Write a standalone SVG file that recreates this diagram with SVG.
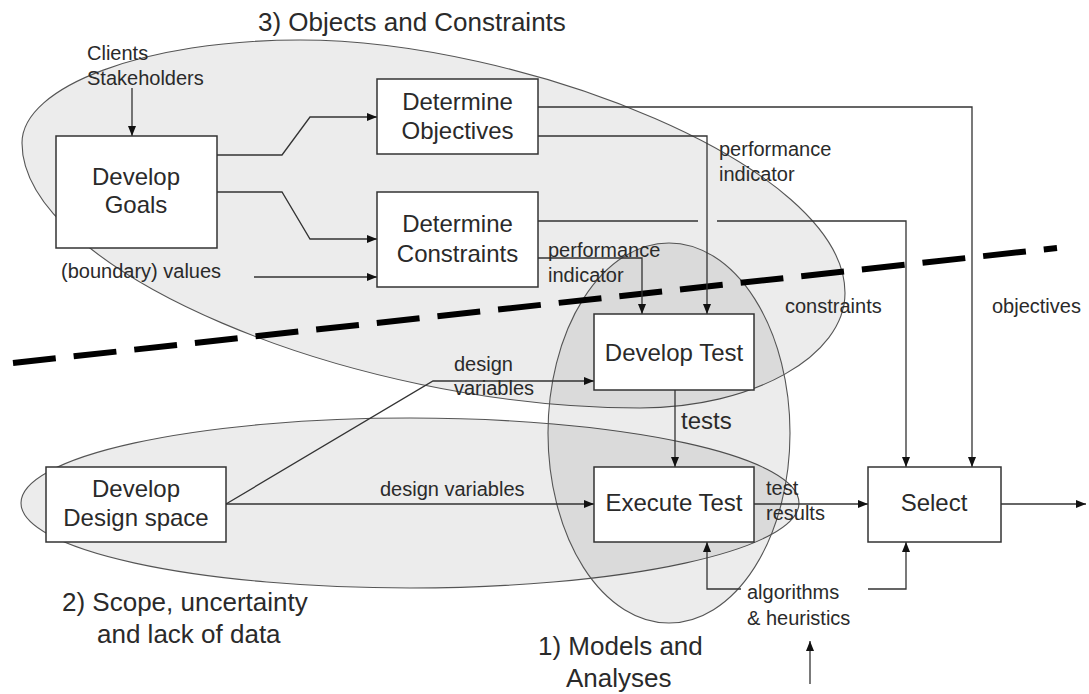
<svg xmlns="http://www.w3.org/2000/svg" width="1089" height="694" viewBox="0 0 1089 694">
<style>
  .region { fill: #000; fill-opacity: 0.075; stroke: #555; stroke-width: 1.1; }
  .box { fill: #fff; stroke: #333; stroke-width: 1.5; }
  .wire { fill: none; stroke: #333; stroke-width: 1.3; }
  .arr { marker-end: url(#ah); }
  .t { font-family: "Liberation Sans", Arial, sans-serif; fill: #2a2a2a; }
  .big { font-size: 26px; }
  .mid { font-size: 24px; text-anchor: middle; }
  .sm { font-size: 20px; }
  .divider { fill: none; stroke: #000; stroke-width: 6; stroke-dasharray: 43 18; }
</style>
<defs>
  <marker id="ah" markerUnits="userSpaceOnUse" markerWidth="11" markerHeight="9" refX="10" refY="4" orient="auto">
    <path d="M0,0 L10,4 L0,8 Z" fill="#111"/>
  </marker>
</defs>
<rect width="1089" height="694" fill="#fff"/>

<g id="regions">
  <path id="region-objects-constraints" class="region" d="M22,143 C22,86 146,40 300,40 C520,40 845,165 845,293 C845,356 753,408 640,408 C350,408 22,270 22,143 Z"/>
  <ellipse id="region-scope" class="region" cx="410" cy="503" rx="389" ry="85"/>
  <ellipse id="region-models" class="region" cx="669" cy="433" rx="121" ry="190"/>
</g>

<path class="divider" d="M13,363 L1057,248"/>

<g id="connectors">
  <path class="wire arr" d="M132,88 L132,136"/>
  <path class="wire arr" d="M217,155 L282,155 L310,117 L377,117"/>
  <path class="wire arr" d="M217,192 L282,192 L310,239 L377,239"/>
  <path class="wire arr" d="M254,277 L377,277"/>
  <path class="wire arr" d="M538,107 L972,107 L972,467"/>
  <path class="wire arr" d="M538,136 L707,136 L707,314"/>
  <path class="wire" d="M538,221 L698,221"/>
  <path class="wire arr" d="M717,221 L906,221 L906,467"/>
  <path class="wire arr" d="M538,258 L642,258 L642,314"/>
  <path class="wire arr" d="M226,504 L433,381 L594,381"/>
  <path class="wire arr" d="M226,504 L594,504"/>
  <path class="wire arr" d="M675,390 L675,467"/>
  <path class="wire arr" d="M754,504 L868,504"/>
  <path class="wire arr" d="M1001,504 L1086,504"/>
  <path class="wire arr" d="M741,589 L707,589 L707,542"/>
  <path class="wire arr" d="M868,589 L906,589 L906,542"/>
  <path class="wire arr" d="M810,684 L810,641"/>
</g>

<g id="develop-goals">
  <rect class="box" x="56" y="136" width="161" height="112"/>
  <text class="t mid" x="136" y="185">Develop</text>
  <text class="t mid" x="136" y="213">Goals</text>
</g>
<g id="determine-objectives">
  <rect class="box" x="377" y="79" width="161" height="75"/>
  <text class="t mid" x="457.5" y="110">Determine</text>
  <text class="t mid" x="457.5" y="139">Objectives</text>
</g>
<g id="determine-constraints">
  <rect class="box" x="377" y="192" width="161" height="95"/>
  <text class="t mid" x="457.5" y="232">Determine</text>
  <text class="t mid" x="457.5" y="262">Constraints</text>
</g>
<g id="develop-test">
  <rect class="box" x="594" y="314" width="160" height="76"/>
  <text class="t mid" x="674" y="361">Develop Test</text>
</g>
<g id="execute-test">
  <rect class="box" x="594" y="467" width="160" height="75"/>
  <text class="t mid" x="674" y="511">Execute Test</text>
</g>
<g id="select">
  <rect class="box" x="868" y="467" width="133" height="75"/>
  <text class="t mid" x="934" y="511">Select</text>
</g>
<g id="develop-design-space">
  <rect class="box" x="46" y="467" width="180" height="75"/>
  <text class="t mid" x="136" y="497">Develop</text>
  <text class="t mid" x="136" y="526">Design space</text>
</g>

<g id="labels">
  <text class="t big" x="258" y="31">3) Objects and Constraints</text>
  <text class="t big" x="62" y="611">2) Scope, uncertainty</text>
  <text class="t big" x="97" y="643">and lack of data</text>
  <text class="t big" x="538" y="655">1) Models and</text>
  <text class="t big" x="566" y="687">Analyses</text>

  <text class="t sm" x="87" y="60">Clients</text>
  <text class="t sm" x="87" y="85">Stakeholders</text>
  <text class="t sm" x="61" y="278">(boundary) values</text>
  <text class="t sm" x="719" y="156">performance</text>
  <text class="t sm" x="719" y="181">indicator</text>
  <text class="t sm" x="548" y="257">performance</text>
  <text class="t sm" x="548" y="282">indicator</text>
  <text class="t sm" x="785" y="313">constraints</text>
  <text class="t sm" x="992" y="313">objectives</text>
  <text class="t sm" x="454" y="371">design</text>
  <text class="t sm" x="454" y="395">variables</text>
  <text class="t sm" x="380" y="496">design variables</text>
  <text class="t" style="font-size:24px" x="681" y="429">tests</text>
  <text class="t sm" x="766" y="495">test</text>
  <text class="t sm" x="766" y="520">results</text>
  <text class="t sm" x="747" y="599">algorithms</text>
  <text class="t sm" x="747" y="625">&amp; heuristics</text>
</g>
</svg>
